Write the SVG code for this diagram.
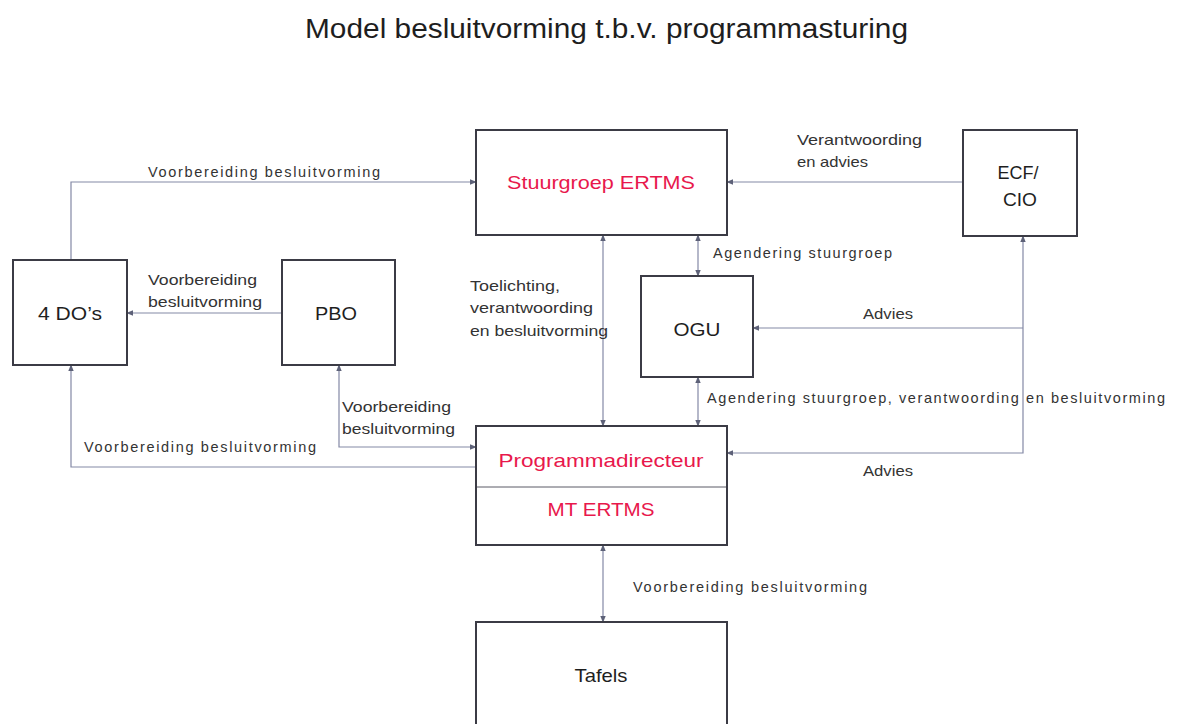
<svg xmlns="http://www.w3.org/2000/svg" width="1178" height="724" viewBox="0 0 1178 724">
  <style>
    .box { fill: #ffffff; stroke: #3b3b45; stroke-width: 2; }
    .div { stroke: #5a5a66; stroke-width: 1; }
    .ln { fill: none; stroke: #8489a6; stroke-width: 1.2; }
    .lbl { font-family: "Liberation Sans", Arial, sans-serif; font-size: 14.5px; fill: #333333; }
    .nd { font-family: "Liberation Sans", Arial, sans-serif; font-size: 18.5px; fill: #1e1e1e; text-anchor: middle; }
    .red { fill: #e8184c; }
    .title { font-family: "Liberation Sans", Arial, sans-serif; font-size: 27px; fill: #1e1e1e; }
  </style>
  <defs>
    <marker id="ah" viewBox="0 0 10 10" refX="9" refY="5" markerWidth="7" markerHeight="7" markerUnits="userSpaceOnUse" orient="auto-start-reverse">
      <path d="M0,1 L10,5 L0,9 z" fill="#5d6178"/>
    </marker>
  </defs>

  <rect width="1178" height="724" fill="#ffffff"/>

  <text class="title" x="305" y="38" textLength="603" lengthAdjust="spacingAndGlyphs">Model besluitvorming t.b.v. programmasturing</text>

  <!-- connectors -->
  <g id="connectors">
    <!-- 4 DO's -> Stuurgroep -->
    <polyline class="ln" points="71,260 71,182 476,182" marker-end="url(#ah)"/>
    <!-- PBO -> 4 DO's -->
    <line class="ln" x1="282" y1="313" x2="127" y2="313" marker-end="url(#ah)"/>
    <!-- Programmadirecteur -> 4 DO's -->
    <polyline class="ln" points="476,467 71,467 71,365" marker-end="url(#ah)"/>
    <!-- PBO <-> Programmadirecteur -->
    <polyline class="ln" points="339,365 339,447 476,447" marker-start="url(#ah)" marker-end="url(#ah)"/>
    <!-- Stuurgroep <-> Programmadirecteur -->
    <line class="ln" x1="603" y1="235" x2="603" y2="426" marker-start="url(#ah)" marker-end="url(#ah)"/>
    <!-- Stuurgroep <-> OGU -->
    <line class="ln" x1="698" y1="235" x2="698" y2="276" marker-start="url(#ah)" marker-end="url(#ah)"/>
    <!-- OGU <-> Programmadirecteur -->
    <line class="ln" x1="698" y1="377" x2="698" y2="426" marker-start="url(#ah)" marker-end="url(#ah)"/>
    <!-- ECF/CIO -> Stuurgroep -->
    <line class="ln" x1="963" y1="182" x2="727" y2="182" marker-end="url(#ah)"/>
    <!-- ECF/CIO <-> Programmadirecteur -->
    <polyline class="ln" points="1023,236 1023,453 727,453" marker-start="url(#ah)" marker-end="url(#ah)"/>
    <!-- ECF/CIO -> OGU -->
    <line class="ln" x1="1023" y1="328" x2="753" y2="328" marker-end="url(#ah)"/>
    <!-- Programmadirecteur <-> Tafels -->
    <line class="ln" x1="603" y1="545" x2="603" y2="622" marker-start="url(#ah)" marker-end="url(#ah)"/>
  </g>

  <!-- connector labels -->
  <g id="labels">
    <text class="lbl" x="148" y="177" textLength="232" lengthAdjust="spacing">Voorbereiding  besluitvorming</text>
    <text class="lbl" x="148" y="285" textLength="109" lengthAdjust="spacingAndGlyphs">Voorbereiding</text>
    <text class="lbl" x="148" y="307" textLength="114" lengthAdjust="spacingAndGlyphs">besluitvorming</text>
    <text class="lbl" x="84" y="452" textLength="232" lengthAdjust="spacing">Voorbereiding  besluitvorming</text>
    <text class="lbl" x="342" y="412" textLength="109" lengthAdjust="spacingAndGlyphs">Voorbereiding</text>
    <text class="lbl" x="342" y="434" textLength="113" lengthAdjust="spacingAndGlyphs">besluitvorming</text>
    <text class="lbl" x="470" y="291" textLength="90" lengthAdjust="spacingAndGlyphs">Toelichting,</text>
    <text class="lbl" x="470" y="313" textLength="123" lengthAdjust="spacingAndGlyphs">verantwoording</text>
    <text class="lbl" x="470" y="336" textLength="138" lengthAdjust="spacingAndGlyphs">en besluitvorming</text>
    <text class="lbl" x="713" y="258" textLength="179" lengthAdjust="spacing">Agendering  stuurgroep</text>
    <text class="lbl" x="707" y="403" textLength="458" lengthAdjust="spacing">Agendering  stuurgroep,  verantwoording  en besluitvorming</text>
    <text class="lbl" x="797" y="145" textLength="125" lengthAdjust="spacingAndGlyphs">Verantwoording</text>
    <text class="lbl" x="797" y="167" textLength="71" lengthAdjust="spacingAndGlyphs">en advies</text>
    <text class="lbl" x="863" y="319" textLength="50" lengthAdjust="spacingAndGlyphs">Advies</text>
    <text class="lbl" x="863" y="476" textLength="50" lengthAdjust="spacingAndGlyphs">Advies</text>
    <text class="lbl" x="633" y="592" textLength="234" lengthAdjust="spacing">Voorbereiding  besluitvorming</text>
  </g>

  <!-- nodes -->
  <g id="stuurgroep">
    <rect class="box" x="476" y="130" width="251" height="105"/>
    <text class="nd red" x="601" y="189" textLength="188" lengthAdjust="spacingAndGlyphs">Stuurgroep ERTMS</text>
  </g>
  <g id="ecf-cio">
    <rect class="box" x="963" y="130" width="114" height="106"/>
    <text class="nd" x="1018" y="179" textLength="41" lengthAdjust="spacingAndGlyphs">ECF/</text>
    <text class="nd" x="1020" y="206" textLength="34" lengthAdjust="spacingAndGlyphs">CIO</text>
  </g>
  <g id="do4">
    <rect class="box" x="13" y="260" width="114" height="105"/>
    <text class="nd" x="70" y="320" textLength="64" lengthAdjust="spacingAndGlyphs">4 DO’s</text>
  </g>
  <g id="pbo">
    <rect class="box" x="282" y="260" width="113" height="105"/>
    <text class="nd" x="336" y="320" textLength="42" lengthAdjust="spacingAndGlyphs">PBO</text>
  </g>
  <g id="ogu">
    <rect class="box" x="641" y="276" width="112" height="101"/>
    <text class="nd" x="697" y="336" textLength="47" lengthAdjust="spacingAndGlyphs">OGU</text>
  </g>
  <g id="programmadirecteur">
    <rect class="box" x="476" y="426" width="251" height="119"/>
    <line class="div" x1="477" y1="487" x2="726" y2="487"/>
    <text class="nd red" x="601" y="467" textLength="205" lengthAdjust="spacingAndGlyphs">Programmadirecteur</text>
    <text class="nd red" x="601" y="516" textLength="107" lengthAdjust="spacingAndGlyphs">MT ERTMS</text>
  </g>
  <g id="tafels">
    <rect class="box" x="476" y="622" width="251" height="120"/>
    <text class="nd" x="601" y="682" textLength="53" lengthAdjust="spacingAndGlyphs">Tafels</text>
  </g>
</svg>
